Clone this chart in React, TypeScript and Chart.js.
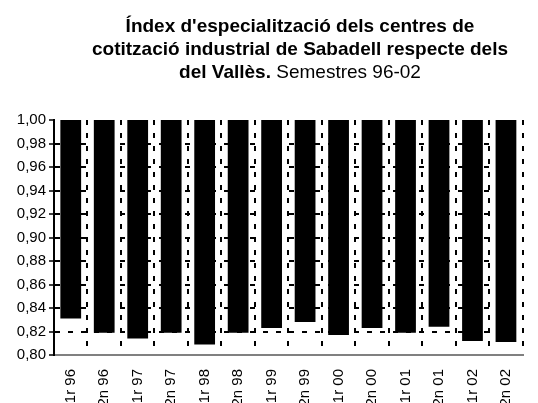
import React, { useEffect, useRef } from "react";
import { Chart, registerables } from "chart.js";

Chart.register(...registerables);

const categories = [
  "1r 96", "2n 96", "1r 97", "2n 97", "1r 98", "2n 98", "1r 99",
  "2n 99", "1r 00", "2n 00", "1r 01", "2n 01", "1r 02", "2n 02",
];
const values = [
  0.831, 0.819, 0.814, 0.819, 0.809, 0.819, 0.823,
  0.828, 0.817, 0.823, 0.819, 0.824, 0.812, 0.811,
];
const axisTop = 1.0;
const axisMin = 0.8;
const axisStep = 0.02;

const titleLines: { text: string; bold: boolean }[][] = [
  [{ text: "Índex d'especialització dels centres de", bold: true }],
  [{ text: "cotització industrial de Sabadell respecte dels", bold: true }],
  [
    { text: "del Vallès.", bold: true },
    { text: " Semestres 96-02", bold: false },
  ],
];

const FONT = "'Liberation Sans', Arial, sans-serif";

const titlePlugin = {
  id: "richTitle",
  afterDraw(chart: any) {
    const ctx = chart.ctx;
    ctx.save();
    ctx.fillStyle = "#000";
    ctx.textBaseline = "alphabetic";
    ctx.textAlign = "left";
    const cx = 300;
    const size = 19;
    const baselines = [32, 55, 78];
    titleLines.forEach((line, i) => {
      let w = 0;
      line.forEach((p) => {
        ctx.font = `${p.bold ? "bold " : ""}${size}px ${FONT}`;
        w += ctx.measureText(p.text).width;
      });
      let x = cx - w / 2;
      line.forEach((p) => {
        ctx.font = `${p.bold ? "bold " : ""}${size}px ${FONT}`;
        ctx.fillText(p.text, x, baselines[i]);
        x += ctx.measureText(p.text).width;
      });
    });
    ctx.restore();
  },
};

export default function App() {
  const ref = useRef<HTMLCanvasElement | null>(null);
  useEffect(() => {
    if (!ref.current) return;
    const chart = new Chart(ref.current, {
      type: "bar",
      data: {
        labels: categories,
        datasets: [
          {
            data: values.map((v) => [v, axisTop]) as any,
            backgroundColor: "#000",
            borderWidth: 0,
            barPercentage: 0.62,
            categoryPercentage: 1,
          },
        ],
      },
      options: {
        animation: false,
        responsive: false,
        layout: { padding: { top: 120, right: 1, left: 0, bottom: 0 } },
        plugins: {
          legend: { display: false },
          title: { display: false },
          tooltip: { enabled: false },
        },
        scales: {
          x: {
            offset: true,
            grid: {
              offset: true,
              display: true,
              drawTicks: false,
              color: "#000",
              lineWidth: 2,
            },
            border: { display: true, color: "#808080", width: 2, dash: [5, 8] },
            ticks: {
              color: "#000",
              font: { family: FONT, size: 15 },
              minRotation: 90,
              maxRotation: 90,
              padding: 14,
              autoSkip: false,
            },
            afterFit(scale: any) {
              scale.height = 48;
            },
          },
          y: {
            min: axisMin,
            max: axisTop,
            grid: {
              color: (c: any) =>
                c.tick && Math.abs(c.tick.value - axisTop) < 1e-6 ? "rgba(0,0,0,0)" : "#000",
              lineWidth: 2,
              drawTicks: true,
              tickLength: 5,
              tickColor: "#000",
              tickWidth: 1.5,
            },
            border: { display: true, color: "#000", width: 2, dash: [5, 8] },
            ticks: {
              stepSize: axisStep,
              color: "#000",
              padding: 3,
              font: { family: FONT, size: 15 },
              callback: (v: any) => Number(v).toFixed(2).replace(".", ","),
            },
            afterFit(scale: any) {
              scale.width = 54;
            },
          },
        },
      },
      plugins: [titlePlugin],
    });
    return () => chart.destroy();
  }, []);
  return (
    <div style={{ position: "absolute", left: 0, top: 0, width: 538, height: 403, background: "#fff" }}>
      <canvas ref={ref} width={538} height={403} />
    </div>
  );
}
